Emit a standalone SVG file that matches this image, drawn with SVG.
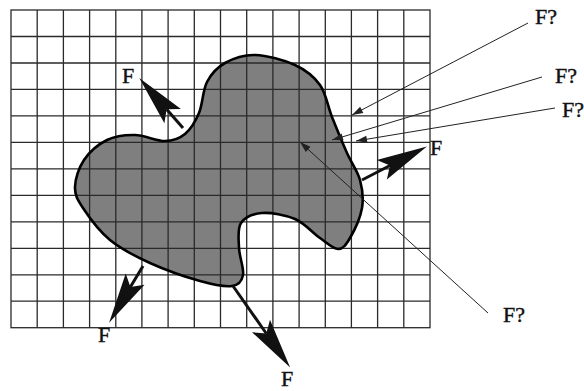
<svg xmlns="http://www.w3.org/2000/svg" width="584" height="391" viewBox="0 0 584 391">
<style>
.grid{fill:none;stroke:#2a2a2a;stroke-width:1.3}
.blobfill{fill:#7f7f7f;stroke:none}
.blobline{fill:none;stroke:#000;stroke-width:2.6;stroke-linejoin:round}
.force{stroke:#111;stroke-width:3;fill:none}
.thin{stroke:#222;stroke-width:1;fill:none}
.lbl{font-family:"Liberation Serif","Times New Roman",serif;font-size:22px;fill:#111;stroke:#111;stroke-width:0.4}
</style>
<defs>
<marker id="bighead" markerUnits="userSpaceOnUse" markerWidth="60" markerHeight="30" viewBox="-12 -12 52 24" refX="0" refY="0" orient="auto" overflow="visible">
<path d="M36,0 L-8,-9.5 L0,0 L-8,9.5 Z" fill="#111"/>
</marker>
<marker id="smallhead" markerUnits="userSpaceOnUse" markerWidth="16" markerHeight="10" viewBox="-12 -5 13 10" refX="0" refY="0" orient="auto" overflow="visible">
<path d="M0,0 L-11,-3.5 L-11,3.5 Z" fill="#222"/>
</marker>
</defs>
<g id="blob-fill">
<path class="blobfill" d="M75,187 C75.2,179 78.7,167.8 84,160 C89.3,152.2 98.5,144.2 107,140 C115.5,135.8 125.3,134.8 135,135 C144.7,135.2 156.7,141.2 165,141 C173.3,140.8 179.3,138.7 185,134 C190.7,129.3 195.3,121.7 199,113 C202.7,104.3 202.7,90.3 207,82 C211.3,73.7 217,67.5 225,63 C233,58.5 243.3,54.7 255,55 C266.7,55.3 284.2,60 295,65 C305.8,70 313.8,76.3 320,85 C326.2,93.7 327.5,105.7 332,117 C336.5,128.3 342.3,142.5 347,153 C351.7,163.5 357.5,170.8 360,180 C362.5,189.2 363.7,198.3 362,208 C360.3,217.7 354,231.2 350,238 C346,244.8 343,249 338,249 C333,249 327.2,243 320,238 C312.8,233 304.7,223.2 295,219 C285.3,214.8 271,212.3 262,213 C253,213.7 244.8,217.2 241,223 C237.2,228.8 238.7,239.3 239,248 C239.3,256.7 244.2,268.7 243,275 C241.8,281.3 239.2,285 232,286 C224.8,287 213.7,284.8 200,281 C186.3,277.2 165,269.8 150,263 C135,256.2 121.2,249.2 110,240 C98.8,230.8 88.8,216.8 83,208 C77.2,199.2 74.8,195 75,187 Z"/>
</g>
<g id="grid">
<rect class="grid" x="11" y="10" width="419" height="317.7"/>
<path class="grid" d="M37.2,10V327.7 M63.4,10V327.7 M89.6,10V327.7 M115.8,10V327.7 M141.9,10V327.7 M168.1,10V327.7 M194.3,10V327.7 M220.5,10V327.7 M246.7,10V327.7 M272.9,10V327.7 M299.1,10V327.7 M325.3,10V327.7 M351.4,10V327.7 M377.6,10V327.7 M403.8,10V327.7 M11,36.5H430 M11,63H430 M11,89.4H430 M11,115.9H430 M11,142.4H430 M11,168.9H430 M11,195.3H430 M11,221.8H430 M11,248.3H430 M11,274.8H430 M11,301.2H430"/>
</g>
<g id="blob">
<path class="blobline" d="M75,187 C75.2,179 78.7,167.8 84,160 C89.3,152.2 98.5,144.2 107,140 C115.5,135.8 125.3,134.8 135,135 C144.7,135.2 156.7,141.2 165,141 C173.3,140.8 179.3,138.7 185,134 C190.7,129.3 195.3,121.7 199,113 C202.7,104.3 202.7,90.3 207,82 C211.3,73.7 217,67.5 225,63 C233,58.5 243.3,54.7 255,55 C266.7,55.3 284.2,60 295,65 C305.8,70 313.8,76.3 320,85 C326.2,93.7 327.5,105.7 332,117 C336.5,128.3 342.3,142.5 347,153 C351.7,163.5 357.5,170.8 360,180 C362.5,189.2 363.7,198.3 362,208 C360.3,217.7 354,231.2 350,238 C346,244.8 343,249 338,249 C333,249 327.2,243 320,238 C312.8,233 304.7,223.2 295,219 C285.3,214.8 271,212.3 262,213 C253,213.7 244.8,217.2 241,223 C237.2,228.8 238.7,239.3 239,248 C239.3,256.7 244.2,268.7 243,275 C241.8,281.3 239.2,285 232,286 C224.8,287 213.7,284.8 200,281 C186.3,277.2 165,269.8 150,263 C135,256.2 121.2,249.2 110,240 C98.8,230.8 88.8,216.8 83,208 C77.2,199.2 74.8,195 75,187 Z"/>
</g>
<g id="connectors">
<line class="force" x1="183" y1="128" x2="166.6" y2="109.2" marker-end="url(#bighead)"/>
<line class="force" x1="362" y1="180" x2="390" y2="165.5" marker-end="url(#bighead)"/>
<line class="force" x1="143" y1="266" x2="130.4" y2="287.1" marker-end="url(#bighead)"/>
<line class="force" x1="233" y1="286" x2="266.3" y2="333.5" marker-end="url(#bighead)"/>
<line class="thin" x1="528" y1="23" x2="352" y2="115" marker-end="url(#smallhead)"/>
<line class="thin" x1="542" y1="77" x2="332" y2="140" marker-end="url(#smallhead)"/>
<line class="thin" x1="555" y1="108" x2="356" y2="141" marker-end="url(#smallhead)"/>
<line class="thin" x1="488" y1="313" x2="300" y2="142" marker-end="url(#smallhead)"/>
</g>
<g id="label-f1"><text class="lbl" x="122" y="83">F</text></g>
<g id="label-f2"><text class="lbl" x="430" y="155">F</text></g>
<g id="label-f3"><text class="lbl" x="98" y="342">F</text></g>
<g id="label-f4"><text class="lbl" x="281" y="386">F</text></g>
<g id="label-q1"><text class="lbl" x="535" y="24">F?</text></g>
<g id="label-q2"><text class="lbl" x="555" y="83">F?</text></g>
<g id="label-q3"><text class="lbl" x="562" y="117">F?</text></g>
<g id="label-q4"><text class="lbl" x="503" y="322">F?</text></g>
</svg>
